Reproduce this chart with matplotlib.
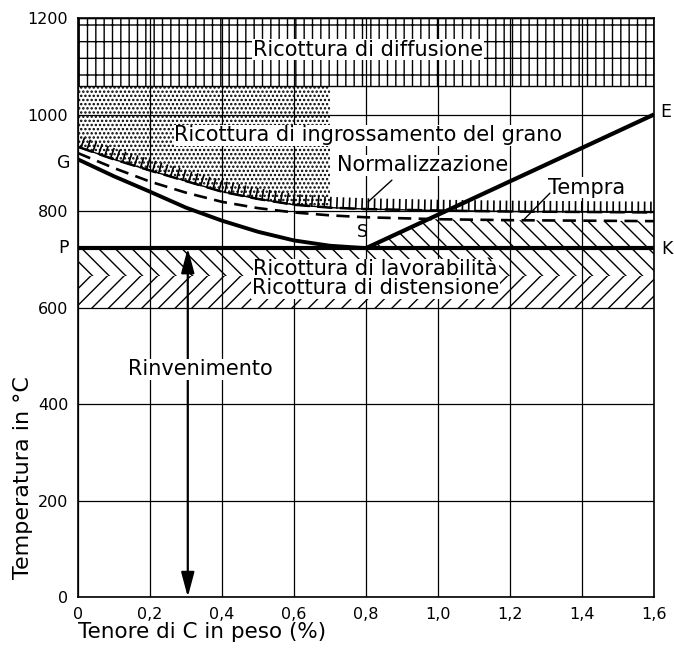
import numpy as np
import matplotlib
matplotlib.use("Agg")
import matplotlib.pyplot as plt
from matplotlib import patheffects
from matplotlib.patches import Polygon

# ---------------- data ----------------
x_ticks = [0, 0.2, 0.4, 0.6, 0.8, 1.0, 1.2, 1.4, 1.6]
x_tick_labels = ["0", "0,2", "0,4", "0,6", "0,8", "1,0", "1,2", "1,4", "1,6"]
y_ticks = [0, 200, 400, 600, 800, 1000, 1200]
y_tick_labels = ["0", "200", "400", "600", "800", "1000", "1200"]

# GS line (A3)
gs_x = [0, 0.1, 0.2, 0.3, 0.4, 0.5, 0.6, 0.7, 0.8]
gs_y = [907, 872, 840, 807, 780, 757, 739, 728, 723]
# SE line (Acm)
se_x = [0.8, 1.6]
se_y = [723, 1000]
# PSK line (A1)
psk_x = [0, 1.6]
psk_t = 723
# Normalizzazione: upper limit (ticked dashed line)
norm_x = [0, 0.1, 0.2, 0.3, 0.4, 0.5, 0.6, 0.7, 0.8, 1.0, 1.2, 1.4, 1.6]
norm_y = [933, 907, 884, 862, 840, 825, 813, 807, 804, 801, 799, 798, 797]
# Tempra: lower dashed line
temp_x = [0, 0.1, 0.2, 0.3, 0.4, 0.5, 0.6, 0.7, 0.8, 1.0, 1.2, 1.4, 1.6]
temp_y = [920, 889, 861, 838, 819, 806, 797, 791, 787, 783, 781, 780, 779]

# temperature bands
diff_band = (1060, 1200)        # Ricottura di diffusione
grain_top = 1060                # Ricottura di ingrossamento del grano
grain_xmax = 0.7
soft_band = (665, 723)          # Ricottura di lavorabilita
stress_band = (600, 665)        # Ricottura di distensione
temper_range = (0, 723)         # Rinvenimento
temper_x = 0.305

labels = [
    ("Ricottura di diffusione", 0.806, 1134),
    ("Ricottura di ingrossamento del grano", 0.807, 957),
    ("Ricottura di lavorabilità", 0.827, 679),
    ("Ricottura di distensione", 0.826, 640),
    ("Rinvenimento", 0.339, 472),
]
leader_labels = [
    ("Normalizzazione", (0.958, 895), (0.872, 864), (0.806, 819)),
    ("Tempra", (1.4125, 848), (1.311, 837), (1.237, 781)),
]
point_labels = [
    ("G", -0.039, 900), ("P", -0.039, 723), ("S", 0.79, 757),
    ("E", 1.633, 1005), ("K", 1.636, 721),
]

# ---------------- figure ----------------
plt.rcParams["font.family"] = ["DejaVu Sans"]
plt.rcParams["hatch.linewidth"] = 1.0
plt.rcParams["hatch.color"] = "black"

fig = plt.figure(figsize=(6.74, 6.5), dpi=100)
ax = fig.add_axes([0.1157, 0.0815, 0.8546, 0.8908])
ax.set_xlim(0, 1.6)
ax.set_ylim(0, 1200)

ax.set_xticks(x_ticks)
ax.set_xticklabels(x_tick_labels)
ax.set_yticks(y_ticks)
ax.set_yticklabels(y_tick_labels)
ax.tick_params(length=0, labelsize=11.5, pad=7)
for s in ax.spines.values():
    s.set_linewidth(1.2)
ax.grid(True, color="black", linewidth=0.9)
ax.set_axisbelow(True)

# hatched regions
xf = np.array(psk_x)
ax.fill_between(xf, diff_band[0], diff_band[1], facecolor="none",
                edgecolor="black", hatch="||-", linewidth=1.0, zorder=2)

nx = np.array(norm_x)
ny = np.array(norm_y)
m = nx <= grain_xmax
dots = ax.fill_between(nx[m], ny[m], grain_top, facecolor="none",
                       edgecolor="black", hatch="....", linewidth=0, zorder=2)
try:
    dots.set_hatch_linewidth(1.15)
except Exception:
    pass

ax.fill_between(xf, soft_band[0], soft_band[1], facecolor="none",
                edgecolor="black", hatch="\\\\", linewidth=0, zorder=2)
ax.fill_between(xf, stress_band[0], stress_band[1], facecolor="none",
                edgecolor="black", hatch="//", linewidth=0, zorder=2)

tx = np.array(temp_x)
ty = np.array(temp_y)
mt = tx >= se_x[0]
hyp = ax.fill_between(tx[mt], psk_t, ty[mt], facecolor="none",
                      edgecolor="black", hatch="\\\\", linewidth=0, zorder=2)
clip = Polygon([[se_x[0], se_y[0]], [se_x[1], se_y[1]], [se_x[1], psk_t]],
               closed=True, transform=ax.transData, facecolor="none",
               edgecolor="none")
ax.add_patch(clip)
hyp.set_clip_path(clip)

# lines
ax.plot(norm_x, norm_y, color="black", lw=1.8, ls=(0, (6, 3)), zorder=4)
ax.plot(norm_x, norm_y, color="black", lw=1.0, zorder=4,
        path_effects=[patheffects.withTickedStroke(spacing=4.5, angle=90,
                                                   length=1.6, linewidth=1.2)])
ax.plot(temp_x, temp_y, color="black", lw=1.9, ls=(0, (5, 2.8)), zorder=4)
ax.plot(gs_x, gs_y, color="black", lw=2.8, zorder=5, solid_capstyle="butt")
ax.plot(se_x, se_y, color="black", lw=3.0, zorder=5, solid_capstyle="butt")
ax.plot(psk_x, [psk_t, psk_t], color="black", lw=3.0, zorder=5,
        solid_capstyle="butt")

# tempering arrow
ax.annotate("", xy=(temper_x, temper_range[0]), xytext=(temper_x, temper_range[1]),
            arrowprops=dict(arrowstyle="<|-|>,head_length=1.5,head_width=0.4",
                            mutation_scale=10, lw=1.6, color="black",
                            shrinkA=0, shrinkB=0), zorder=6)

# labels
box = dict(facecolor="white", edgecolor="none", pad=0.5)
for txt, x, y in labels:
    ax.text(x, y, txt, ha="center", va="center", fontsize=15, bbox=box, zorder=7)
for txt, (x, y), p1, p2 in leader_labels:
    ax.text(x, y, txt, ha="center", va="center", fontsize=15, bbox=box, zorder=7)
    ax.annotate("", xy=p2, xytext=p1,
                arrowprops=dict(arrowstyle="-", lw=1.0, color="black",
                                shrinkA=0, shrinkB=0), zorder=7)
for txt, x, y in point_labels:
    ax.text(x, y, txt, ha="center", va="center", fontsize=12.5, zorder=7,
            clip_on=False)

ax.set_xlabel("Tenore di C in peso (%)", fontsize=15.5, ha="left")
ax.xaxis.set_label_coords(0.0, -0.043)
ax.set_ylabel("Temperatura in °C", fontsize=16)
ax.yaxis.set_label_coords(-0.078, 0.207)

fig.savefig("out.png", dpi=100)
